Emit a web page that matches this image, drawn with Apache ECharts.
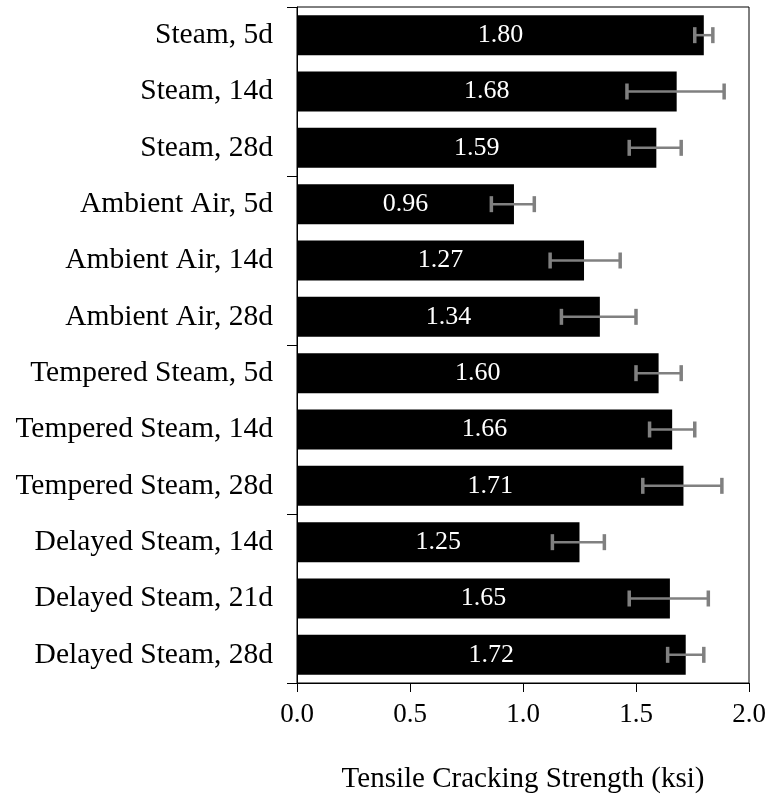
<!DOCTYPE html>
<html>
<head>
<meta charset="utf-8">
<script src="https://cdn.jsdelivr.net/npm/echarts@6/dist/echarts.min.js"></script>
<style>
  html, body { margin: 0; padding: 0; background: #fff; }
  #main { width: 771px; height: 800px; }
</style>
</head>
<body>
<div id="main"></div>
<script>
var categories = ['Steam, 5d', 'Steam, 14d', 'Steam, 28d',
    'Ambient Air, 5d', 'Ambient Air, 14d', 'Ambient Air, 28d',
    'Tempered Steam, 5d', 'Tempered Steam, 14d', 'Tempered Steam, 28d',
    'Delayed Steam, 14d', 'Delayed Steam, 21d', 'Delayed Steam, 28d'];
var strength = [1.80, 1.68, 1.59, 0.96, 1.27, 1.34, 1.60, 1.66, 1.71, 1.25, 1.65, 1.72];
var errLow = [1.76, 1.46, 1.47, 0.86, 1.12, 1.17, 1.50, 1.56, 1.53, 1.13, 1.47, 1.64];
var errHigh = [1.84, 1.89, 1.70, 1.05, 1.43, 1.50, 1.70, 1.76, 1.88, 1.36, 1.82, 1.80];
var xTicks = [0, 0.5, 1.0, 1.5, 2.0];

var serif = "'Liberation Serif', 'Times New Roman', serif";
var chart = echarts.init(document.getElementById('main'));

var errData = categories.map(function (c, i) {
    return [errLow[i], errHigh[i], i];
});

option = {
    animation: false,
    grid: {
        left: 297,
        right: 22,
        top: 7,
        bottom: 117,
        show: true,
        borderColor: '#000',
        borderWidth: 1
    },
    xAxis: {
        type: 'value',
        min: xTicks[0],
        max: xTicks[xTicks.length - 1],
        interval: 0.5,
        name: 'Tensile Cracking Strength (ksi)',
        nameLocation: 'middle',
        nameGap: 82,
        nameTextStyle: { color: '#000', fontFamily: serif, fontSize: 29 },
        axisLine: { show: true, lineStyle: { color: '#000', width: 1 } },
        axisTick: { show: true, length: 9, lineStyle: { color: '#000' } },
        axisLabel: {
            color: '#000', fontFamily: serif, fontSize: 27, margin: 18,
            formatter: function (v) { return v.toFixed(1); }
        },
        splitLine: { show: false }
    },
    yAxis: {
        type: 'category',
        inverse: true,
        data: categories,
        axisLine: { show: true, lineStyle: { color: '#000', width: 1 } },
        axisTick: {
            show: true,
            length: 10,
            lineStyle: { color: '#000' },
            interval: function (i) { return i % 3 === 0; }
        },
        axisLabel: { color: '#000', fontFamily: serif, fontSize: 29.5, margin: 24 },
        splitLine: { show: false }
    },
    series: [{
            type: 'bar',
            data: strength,
            barWidth: 40,
            itemStyle: { color: '#000' },
            label: {
                show: true,
                position: 'inside',
                color: '#fff',
                fontFamily: serif,
                fontSize: 26,
                formatter: function (p) { return p.value.toFixed(2); }
            }
        },
        {
            type: 'custom',
            data: errData,
            encode: { x: [0, 1], y: 2 },
            z: 5,
            renderItem: function (params, api) {
                var lo = api.coord([api.value(0), api.value(2)]);
                var hi = api.coord([api.value(1), api.value(2)]);
                var h = 8;
                var style = { stroke: '#808080', lineWidth: 3.5 };
                return {
                    type: 'group',
                    children: [
                        { type: 'line', shape: { x1: lo[0], y1: lo[1], x2: hi[0], y2: hi[1] }, style: { stroke: '#808080', lineWidth: 2.5 } },
                        { type: 'line', shape: { x1: lo[0], y1: lo[1] - h, x2: lo[0], y2: lo[1] + h }, style: style },
                        { type: 'line', shape: { x1: hi[0], y1: hi[1] - h, x2: hi[0], y2: hi[1] + h }, style: style }
                    ]
                };
            }
        }
    ]
};
chart.setOption(option);
</script>
</body>
</html>
